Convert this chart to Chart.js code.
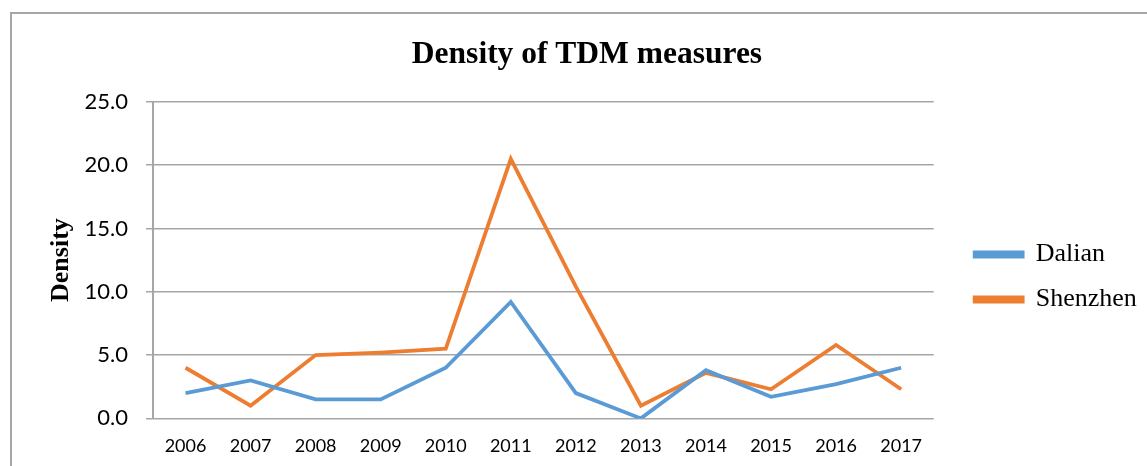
<!DOCTYPE html>
<html>
<head>
<meta charset="utf-8">
<script src="https://cdn.jsdelivr.net/npm/chart.js@4.4.0/dist/chart.umd.min.js"></script>
<style>
  html, body { margin: 0; padding: 0; background: #fff; }
  #wrap { position: relative; width: 1147px; height: 466px; overflow: hidden; }
  #frame { position: absolute; left: 10px; top: 12px; width: 1200px; height: 500px;
           border-top: 2px solid #a6a6a6; border-left: 2px solid #a6a6a6; }
  #Density_Graph { position: absolute; left: 0; top: 0; }
</style>
</head>
<body>
<div id="wrap">
  <div id="frame"></div>
  <canvas id="Density_Graph" width="1147" height="466"></canvas>
</div>
<script>
var years = ['2006', '2007', '2008', '2009', '2010', '2011', '2012', '2013', '2014', '2015', '2016', '2017'];
var dalian = [2.0, 3.0, 1.5, 1.5, 4.0, 9.2, 2.0, 0.0, 3.8, 1.7, 2.7, 4.0];
var shenzhen = [4.0, 1.0, 5.0, 5.2, 5.5, 20.5, 10.4, 1.0, 3.6, 2.3, 5.8, 2.3];
var yTicks = [0, 5, 10, 15, 20, 25];

function MakeDensityGraph() {
    var ctx = document.getElementById('Density_Graph').getContext('2d')

    var data = {
        labels: years,
        datasets: [{
            label: 'Dalian',
            data: dalian,
            borderColor: '#5B9BD5',
            backgroundColor: '#5B9BD5',
            borderWidth: 3.8,
            pointRadius: 0,
            tension: 0
        },
        {
            label: 'Shenzhen',
            data: shenzhen,
            borderColor: '#ED7D31',
            backgroundColor: '#ED7D31',
            borderWidth: 3.8,
            pointRadius: 0,
            tension: 0
        }]
    }

    var options = {
        responsive: false,
        animation: false,
        layout: {
            padding: { left: 34, right: 7, top: 36, bottom: -8 }
        },
        plugins: {
            title: {
                display: true,
                text: 'Density of TDM measures',
                color: '#000',
                font: { family: '"Liberation Serif", "Times New Roman", serif', size: 31.5, weight: 'bold' },
                padding: { top: 0, bottom: 28 }
            },
            legend: {
                position: 'right',
                title: { display: true, text: ' ', font: { size: 10 }, padding: 16 },
                labels: {
                    color: '#000',
                    font: { family: '"Liberation Serif", "Times New Roman", serif', size: 26 },
                    boxWidth: 48,
                    boxHeight: 4,
                    padding: 19
                }
            },
            tooltip: { enabled: false }
        },
        scales: {
            x: {
                offset: true,
                grid: { display: false, drawTicks: false },
                border: { display: false },
                ticks: {
                    color: '#000',
                    padding: 17,
                    maxRotation: 0,
                    font: { family: 'Lato, sans-serif', size: 18 }
                }
            },
            y: {
                min: 0,
                max: 25,
                afterBuildTicks: function (scale) {
                    scale.ticks = yTicks.map(function (v) { return { value: v } })
                },
                afterFit: function (scale) { scale.width = 119 },
                grid: { color: '#a6a6a6', lineWidth: 1.5, tickLength: 7 },
                border: { color: '#a6a6a6', width: 2 },
                ticks: {
                    color: '#000',
                    padding: 18,
                    font: { family: 'Lato, sans-serif', size: 22 },
                    callback: function (v) { return v.toFixed(1) }
                },
                title: {
                    display: true,
                    text: 'Density',
                    color: '#000',
                    font: { family: '"Liberation Serif", "Times New Roman", serif', size: 26, weight: 'bold' },
                    padding: { top: 12, bottom: 0 }
                }
            },
            gap: {
                position: 'right',
                display: true,
                grid: { display: false },
                border: { display: false },
                ticks: { display: false },
                afterFit: function (scale) { scale.width = 22 }
            }
        }
    }

    var config = {
        type: 'line',
        data: data,
        options: options
    }
    var graph = new Chart(ctx, config)
}

MakeDensityGraph()
</script>
</body>
</html>
